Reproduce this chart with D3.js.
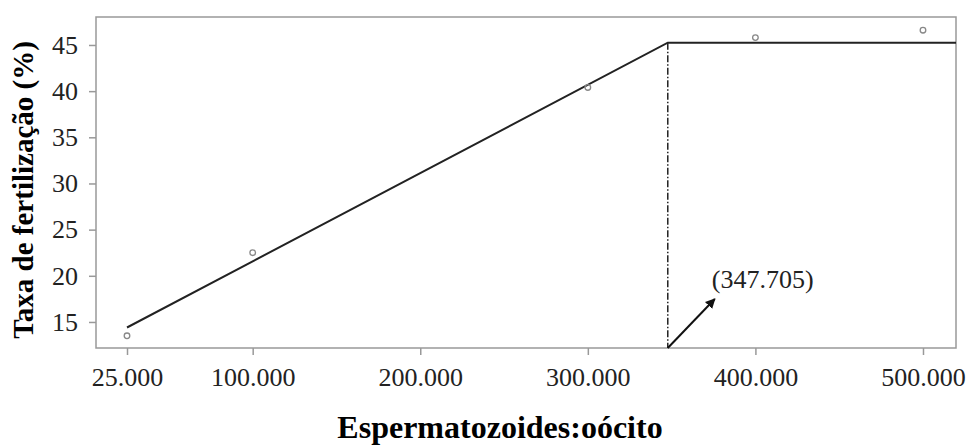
<!DOCTYPE html>
<html>
<head>
<meta charset="utf-8">
<script src="https://cdn.jsdelivr.net/npm/d3@7"></script>
<style>
  body { margin: 0; background: #fff; }
  svg { display: block; font-family: "Liberation Serif", "Times New Roman", serif; }
</style>
</head>
<body>
<svg id="chart" width="968" height="445"></svg>
<script>

// observed means
let doses = [25000, 100000, 300000, 400000, 500000];
let taxa = [13.5, 22.5, 40.4, 45.8, 46.6];

// linear-plateau fit
let fitX = [25000, 347705, 519700];
let fitY = [14.4, 45.25, 45.25];
let breakX = 347705;

let xTicks = [25000, 100000, 200000, 300000, 400000, 500000];
let yTicks = [15, 20, 25, 30, 35, 40, 45];

let svg = d3.select("#chart");

let plotL = 96, plotR = 956, plotT = 17, plotB = 348;

let x = d3.scaleLinear().domain([6500, 519700]).range([plotL, plotR]);
let y = d3.scaleLinear().domain([12.18, 48.03]).range([plotB, plotT]);

let ptBR = d3.formatLocale({ decimal: ",", thousands: ".", grouping: [3], currency: ["", ""] });
let fmt = ptBR.format(",");

// axes
let gx = svg.append("g")
    .attr("transform", `translate(0,${plotB})`)
    .call(d3.axisBottom(x).tickValues(xTicks).tickFormat(fmt).tickSize(7).tickPadding(13));

let gy = svg.append("g")
    .attr("transform", `translate(${plotL},0)`)
    .call(d3.axisLeft(y).tickValues(yTicks).tickSize(7).tickPadding(11));

[gx, gy].forEach(g => {
    g.select(".domain").remove();
    g.selectAll(".tick line").attr("stroke", "#999").attr("stroke-width", 1.5);
    g.selectAll(".tick text")
        .attr("fill", "#222")
        .style("font-size", "26px")
        .style("font-family", "'Liberation Serif', 'Times New Roman', serif");
});

// frame
svg.append("rect")
    .attr("x", plotL).attr("y", plotT)
    .attr("width", plotR - plotL).attr("height", plotB - plotT)
    .attr("fill", "none")
    .attr("stroke", "#999")
    .attr("stroke-width", 1.5);

// fitted line
let fit = fitX.map((v, i) => [v, fitY[i]]);
svg.append("path")
    .datum(fit)
    .attr("fill", "none")
    .attr("stroke", "#222")
    .attr("stroke-width", 2)
    .attr("d", d3.line().x(d => x(d[0])).y(d => y(d[1])));

// breakpoint marker
svg.append("line")
    .attr("x1", x(breakX)).attr("x2", x(breakX))
    .attr("y1", y(fitY[1])).attr("y2", plotB)
    .attr("stroke", "#222")
    .attr("stroke-width", 1.5)
    .attr("stroke-dasharray", "7,2,1.5,2");

// points
svg.append("g").selectAll("circle")
    .data(doses.map((d, i) => [d, taxa[i]]))
    .join("circle")
    .attr("cx", d => x(d[0]))
    .attr("cy", d => y(d[1]))
    .attr("r", 2.8)
    .attr("fill", "none")
    .attr("stroke", "#888")
    .attr("stroke-width", 1.3);

// arrow + label
svg.append("defs").append("marker")
    .attr("id", "arrow")
    .attr("viewBox", "0 0 10 10")
    .attr("refX", 9).attr("refY", 5)
    .attr("markerWidth", 5).attr("markerHeight", 5)
    .attr("orient", "auto")
    .append("path")
    .attr("d", "M0,0L10,5L0,10z")
    .attr("fill", "#111");

let ax = x(breakX);
svg.append("line")
    .attr("x1", ax).attr("y1", plotB)
    .attr("x2", ax + 47).attr("y2", plotB - 49)
    .attr("stroke", "#111")
    .attr("stroke-width", 2)
    .attr("marker-end", "url(#arrow)");

svg.append("text")
    .attr("x", ax + 44).attr("y", 288)
    .attr("fill", "#222")
    .style("font-size", "26px")
    .text("(347.705)");

// titles
svg.append("text")
    .attr("x", 500).attr("y", 438)
    .attr("text-anchor", "middle")
    .style("font-size", "32px")
    .style("font-weight", "bold")
    .text("Espermatozoides:oócito");

svg.append("text")
    .attr("transform", "translate(33,190) rotate(-90)")
    .attr("text-anchor", "middle")
    .style("font-size", "29px")
    .style("font-weight", "bold")
    .text("Taxa de fertilização (%)");

</script>
</body>
</html>
